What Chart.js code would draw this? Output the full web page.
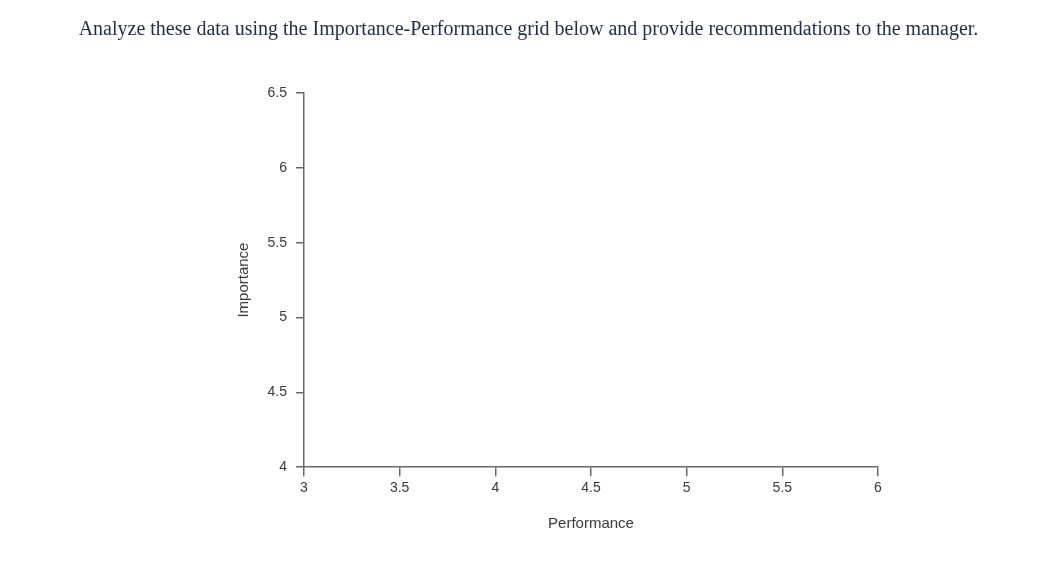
<!DOCTYPE html>
<html>
<head>
<meta charset="utf-8">
<script src="https://cdn.jsdelivr.net/npm/chart.js@4"></script>
<style>
  html, body { margin: 0; padding: 0; background: #fff; }
  #wrap { width: 1057px; height: 568px; }
</style>
</head>
<body>
<div id="wrap"><canvas id="ipaChart"></canvas></div>
<script>
// the grid is empty in the source: no attributes plotted yet
const attributes = [];
const performance = [];
const importance = [];
const xTicks = [3, 3.5, 4, 4.5, 5, 5.5, 6];
const yTicks = [4, 4.5, 5, 5.5, 6, 6.5];

const axisColor = '#656a6a';
const textColor = '#3a3a3a';
const sans = '"Liberation Sans", Arial, sans-serif';

const ctx = document.getElementById('ipaChart').getContext('2d');
const ipaChart = new Chart(ctx, {
  type: 'scatter',
  data: {
    datasets: [{
      label: 'Attributes',
      data: attributes.map((a, i) => ({ x: performance[i], y: importance[i] })),
      backgroundColor: '#1e2d4a'
    }]
  },
  options: {
    responsive: true,
    maintainAspectRatio: false,
    animation: false,
    layout: {
      padding: { left: 0, right: 0, top: 0, bottom: 31 }
    },
    scales: {
      x: {
        type: 'linear',
        min: xTicks[0],
        max: xTicks[xTicks.length - 1],
        afterBuildTicks: scale => { scale.ticks = xTicks.map(v => ({ value: v })); },
        ticks: {
          color: textColor,
          font: { family: sans, size: 14 },
          padding: 4,
          callback: v => String(v)
        },
        grid: { drawOnChartArea: false, drawTicks: true, tickLength: 9, color: axisColor, lineWidth: 1.5 },
        border: { display: true, color: axisColor, width: 1.5 },
        title: {
          display: true,
          text: 'Performance',
          color: textColor,
          font: { family: sans, size: 15 },
          padding: { top: 14 }
        }
      },
      y: {
        type: 'linear',
        min: yTicks[0],
        max: yTicks[yTicks.length - 1],
        afterBuildTicks: scale => { scale.ticks = yTicks.map(v => ({ value: v })); },
        afterFit: scale => { scale.width = 304; },
        ticks: {
          color: textColor,
          font: { family: sans, size: 14 },
          padding: 9,
          callback: v => String(v)
        },
        grid: { drawOnChartArea: false, drawTicks: true, tickLength: 8, color: axisColor, lineWidth: 1.5 },
        border: { display: true, color: axisColor, width: 1.5 },
        title: {
          display: true,
          text: 'Importance',
          color: textColor,
          font: { family: sans, size: 15 },
          padding: { top: 235 }
        }
      },
      // blank axis that only reserves the space right of the grid
      yRight: {
        type: 'linear',
        position: 'right',
        display: true,
        afterFit: scale => { scale.width = 1057 - 878; },
        ticks: { display: false },
        grid: { display: false },
        border: { display: false }
      }
    },
    plugins: {
      legend: { display: false },
      tooltip: { enabled: false },
      title: {
        display: true,
        text: 'Analyze these data using the Importance-Performance grid below and provide recommendations to the manager.',
        color: '#1e2d4a',
        font: { family: '"Liberation Serif", "DejaVu Serif", serif', size: 20, weight: 'normal' },
        padding: { top: 18, bottom: 51 }
      }
    }
  }
});
</script>
</body>
</html>
